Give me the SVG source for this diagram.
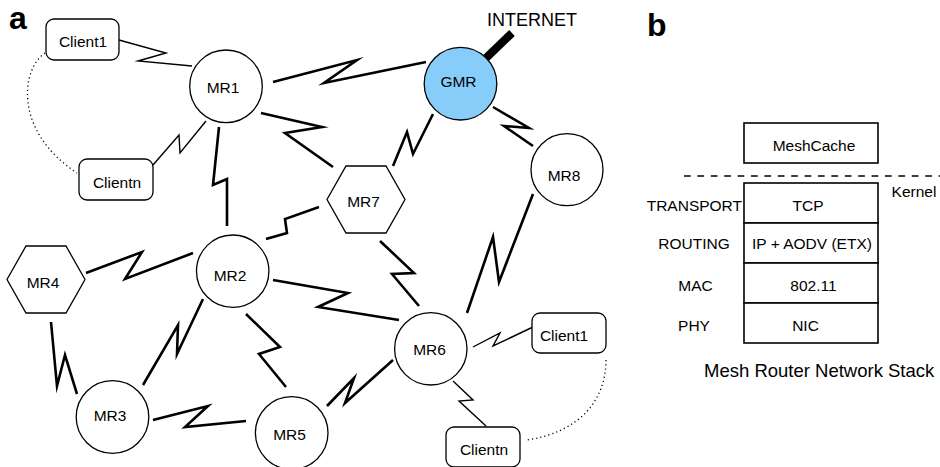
<svg xmlns="http://www.w3.org/2000/svg" width="940" height="467" viewBox="0 0 940 467">
<style>
text{font-family:"Liberation Sans",Arial,sans-serif;fill:#000;}
.lbl{font-size:15.5px;text-anchor:middle;}
.big{font-size:18px;}
.panel{font-size:32px;font-weight:bold;}
.node{fill:#fff;stroke:#000;stroke-width:1.3;}
.gmr{fill:#87CDFA;stroke:#000;stroke-width:1.3;}
.thick{fill:none;stroke:#000;stroke-width:2.6;stroke-linejoin:miter;stroke-miterlimit:10;}
.thin{fill:none;stroke:#000;stroke-width:1.4;stroke-linejoin:miter;stroke-miterlimit:10;}
.dot{fill:none;stroke:#000;stroke-width:1.3;stroke-dasharray:1.2 3;}
.box{fill:#fff;stroke:#000;stroke-width:1.6;}
</style>
<rect width="940" height="467" fill="#fff"/>
<text class="panel" x="9" y="29">a</text>
<text class="panel" x="647" y="36">b</text>

<g id="connectors">
<polyline class="thin" points="119,40 166,53 138,61 192,66"/>
<polyline class="thin" points="153,165 179,135 180,153 206,121"/>
<polyline class="thick" points="273,82 357,60 324,83 426,62"/>
<polyline class="thick" points="261,113 322,127 285,133 333,167"/>
<polyline class="thick" points="219,127 213,185 227,179 227,226"/>
<polyline class="thick" points="433,114 413,154 407,132 393,166"/>
<polyline class="thick" points="493,107 529,128 504,126 533,146"/>
<polyline class="thick" points="533,194 499,282 493,237 467,313"/>
<polyline class="thick" points="319,207 285,219 287,233 266,239"/>
<polyline class="thick" points="380,241 414,273 392,274 419,306"/>
<polyline class="thick" points="273,280 348,293 318,307 399,320"/>
<polyline class="thick" points="193,253 125,279 142,252 86,273"/>
<polyline class="thick" points="51,322 57,386 65,355 77,394"/>
<polyline class="thick" points="203,299 177,354 178,325 143,385"/>
<polyline class="thick" points="246,314 280,347 259,354 286,387"/>
<polyline class="thick" points="153,420 208,406 185,427 246,421"/>
<polyline class="thick" points="327,406 354,378 345,403 393,360"/>
<polyline class="thin" points="473,347 500,333 493,346 533,327"/>
<polyline class="thin" points="453,381 473,400 459,401 486,426"/>
<line x1="486" y1="58" x2="512" y2="33" stroke="#000" stroke-width="8"/>
<path class="dot" d="M45,53 C22,68 12,130 77,173"/>
<path class="dot" d="M606,360 C606,400 580,432 527,440"/>
</g>

<g id="client1-a"><rect class="node" x="46" y="19" width="73" height="41" rx="8"/><text class="lbl" x="83" y="47">Client1</text></g>
<g id="clientn-a"><rect class="node" x="79" y="159" width="74" height="41" rx="8"/><text class="lbl" x="117" y="187.5">Clientn</text></g>
<g id="mr1"><circle class="node" cx="226" cy="86.3" r="36.3"/><text class="lbl" x="223" y="93.3">MR1</text></g>
<g id="gmr"><circle class="gmr" cx="460.5" cy="83.7" r="36.3"/><text class="lbl" x="458.5" y="87.3">GMR</text></g>
<g id="internet"><text class="big" x="487" y="26">INTERNET</text></g>
<g id="mr8"><circle class="node" cx="567" cy="169.7" r="36"/><text class="lbl" x="564" y="180.7">MR8</text></g>
<g id="mr7"><polygon class="node" points="346,166 386,166 405,199.5 386,233 346,233 327,199.5"/><text class="lbl" x="363.5" y="207">MR7</text></g>
<g id="mr2"><circle class="node" cx="232.7" cy="271.2" r="36.2"/><text class="lbl" x="230" y="281">MR2</text></g>
<g id="mr4"><polygon class="node" points="26,246 66,246 85,279.5 66,313 26,313 7,279.5"/><text class="lbl" x="43" y="287.5">MR4</text></g>
<g id="mr3"><circle class="node" cx="112.5" cy="417" r="36.3"/><text class="lbl" x="110" y="420.5">MR3</text></g>
<g id="mr5"><circle class="node" cx="291.7" cy="433" r="36.3"/><text class="lbl" x="289.5" y="440">MR5</text></g>
<g id="mr6"><circle class="node" cx="430.8" cy="348.8" r="36.2"/><text class="lbl" x="429.5" y="355">MR6</text></g>
<g id="client1-b"><rect class="node" x="532" y="313" width="74" height="40" rx="8"/><text class="lbl" x="564" y="340.5">Client1</text></g>
<g id="clientn-b"><rect class="node" x="446" y="427" width="74" height="40" rx="8"/><text class="lbl" x="484" y="455">Clientn</text></g>

<g id="meshcache"><rect class="box" x="744" y="123" width="134" height="40"/><text class="lbl" x="814" y="150.5">MeshCache</text></g>
<line x1="684" y1="176" x2="940" y2="176" stroke="#000" stroke-width="1.3" stroke-dasharray="6.7 6.7"/>
<g id="kernel"><text class="lbl" x="914" y="197" style="text-anchor:middle">Kernel</text></g>
<g id="transport"><rect class="box" x="744" y="183" width="134" height="40"/><text class="lbl" x="808" y="210.5">TCP</text><text class="lbl" x="742" y="210.5" style="text-anchor:end">TRANSPORT</text></g>
<g id="routing"><rect class="box" x="744" y="223" width="134" height="40"/><text class="lbl" x="812" y="249">IP + AODV (ETX)</text><text class="lbl" x="694" y="249">ROUTING</text></g>
<g id="mac"><rect class="box" x="744" y="263" width="134" height="40"/><text class="lbl" x="813.5" y="290.5">802.11</text><text class="lbl" x="695.5" y="290.5">MAC</text></g>
<g id="phy"><rect class="box" x="744" y="303" width="134" height="40"/><text class="lbl" x="805.5" y="330.5">NIC</text><text class="lbl" x="694" y="330.5">PHY</text></g>
<text class="big" x="704" y="376.5" style="font-size:18.5px">Mesh Router Network Stack</text>
</svg>
